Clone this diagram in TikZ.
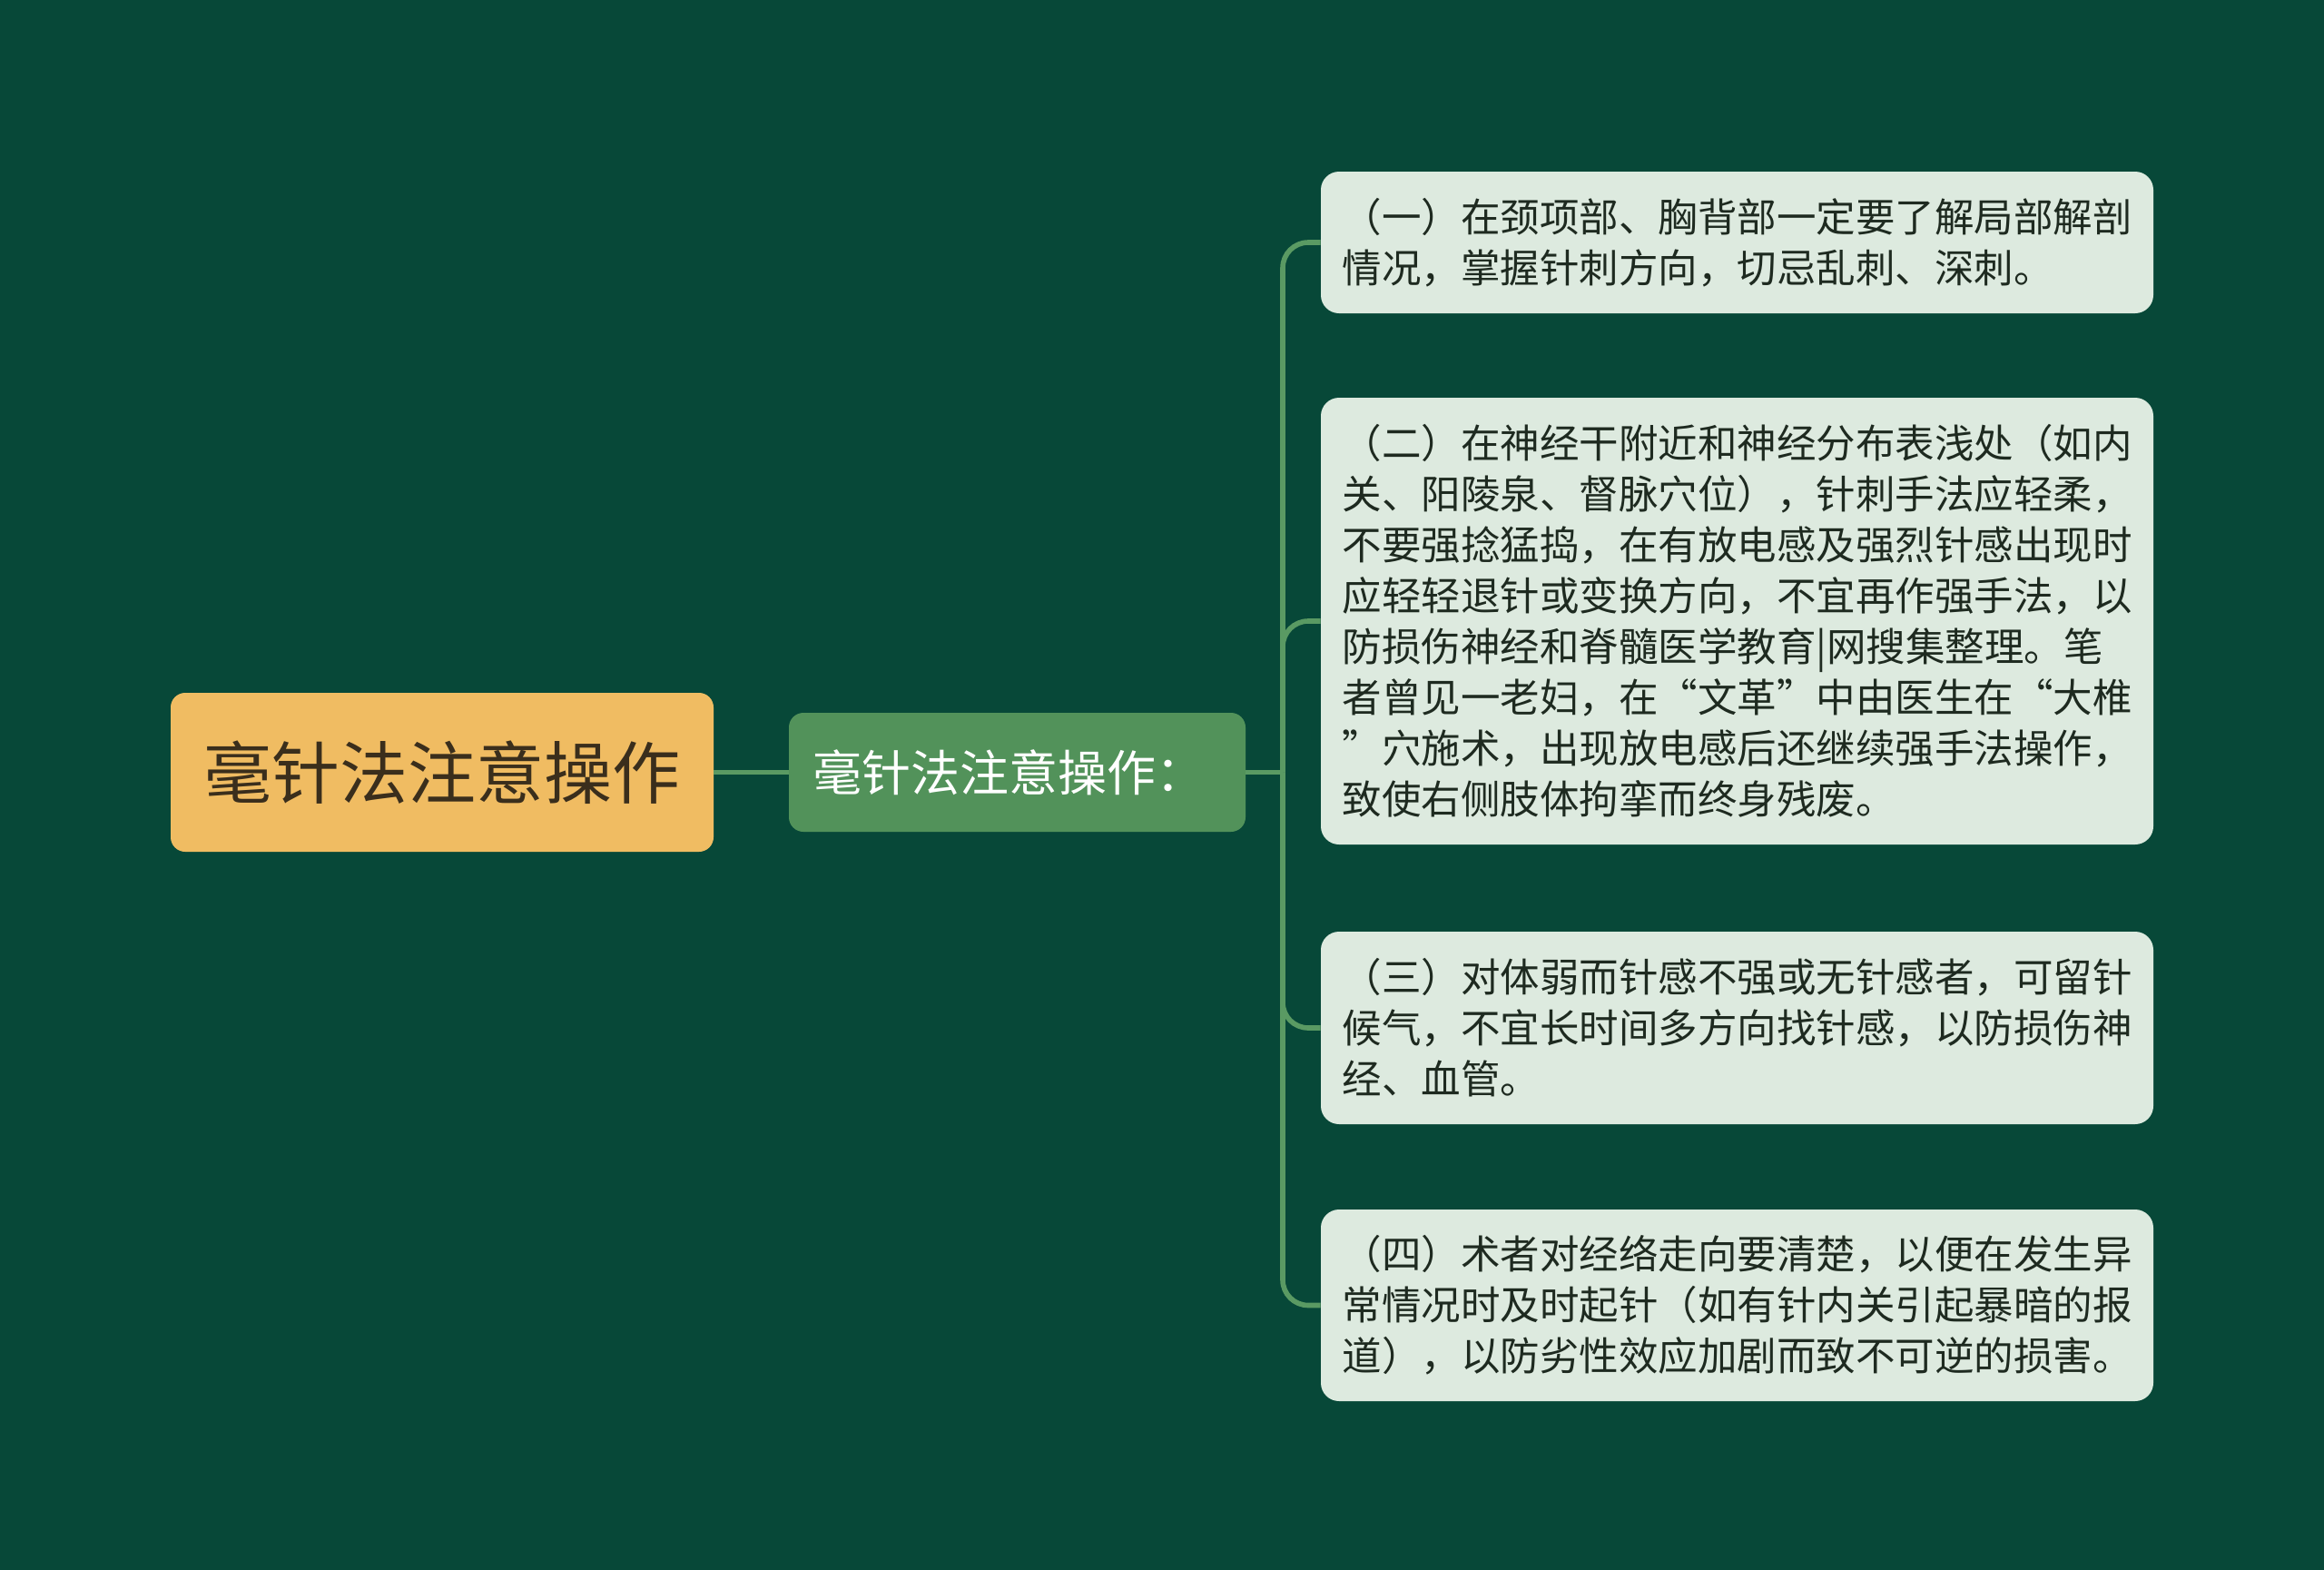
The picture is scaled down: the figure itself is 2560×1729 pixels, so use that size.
\documentclass[tikz,border=0pt]{standalone}
\usepackage{fontspec}
\setmainfont{Noto Sans CJK SC}
\definecolor{bgc}{HTML}{074838}
\definecolor{rootc}{HTML}{F0BC62}
\definecolor{roott}{HTML}{3A2E1C}
\definecolor{midc}{HTML}{52925A}
\definecolor{leafc}{HTML}{DDEADF}
\definecolor{leaft}{HTML}{1E2A20}
\definecolor{linec}{HTML}{5A9A63}
\begin{document}
\begin{tikzpicture}[x=0.5pt,y=-0.5pt,
  rootbox/.style={draw=none,fill=rootc,rounded corners=8pt,text=roott,
    minimum width=299pt,minimum height=87.5pt,inner sep=0pt,
    font=\fontsize{37.5pt}{44pt}\selectfont},
  midbox/.style={draw=none,fill=midc,rounded corners=8pt,text=white,
    minimum width=251.5pt,minimum height=65.5pt,inner xsep=13pt,inner ysep=0pt,
    text width=225.5pt,align=left,font=\fontsize{27pt}{32pt}\selectfont},
  leafbox/.style={draw=none,fill=leafc,rounded corners=10pt,text=leaft,
    minimum width=458.5pt,inner xsep=11.75pt,inner ysep=0pt,
    text width=435pt,align=left,font=\fontsize{21.75pt}{28pt}\selectfont},
  conn/.style={draw=linec,line width=2.8pt},
]
\fill[bgc] (0,0) rectangle (2560,1729);
\useasboundingbox (0,0) rectangle (2560,1729);

\node[rootbox] (root) at (487,850.5) {毫针法注意操作};
\node[midbox] (mid) at (1120.5,850.5) {毫针法注意操作：};

\node[leafbox,minimum height=78pt] (l1) at (1913.5,267) {（一）在颈项部、胸背部一定要了解局部解剖\\情况，掌握针刺方向，切忌乱刺、深刺。};
\node[leafbox,minimum height=246pt] (l2) at (1913.5,684) {（二）在神经干附近和神经分布表浅处（如内\\关、阳陵泉、督脉穴位），针刺手法应轻柔，\\不要强捻猛捣，在有放电感及强烈针感出现时\\应轻轻退针或变换方向，不宜再作强手法，以\\防损伤神经和脊髓医学教育|网搜集整理。笔\\者曾见一老妇，在“文革”中由医生在“大椎\\”穴施术，出现放电感后还继续强手法操作，\\致使右侧肢体拘挛而终身残废。};
\node[leafbox,minimum height=106pt] (l3) at (1913.5,1132) {（三）对体弱而针感不强或无针感者，可留针\\候气，不宜长时间多方向找针感，以防损伤神\\经、血管。};
\node[leafbox,minimum height=105.5pt] (l4) at (1913.5,1437.5) {（四）术者对经络走向要清楚，以便在发生异\\常情况时及时起针（如有针内关引起暴暗的报\\道），以防劣性效应加剧而致不可逆的损害。};

\coordinate (j) at (1413,850.5);
\draw[conn] (root.east) -- (mid.west);
\draw[conn] (mid.east) -- (j);
\draw[conn,rounded corners=14pt] (j) |- (l1.west);
\draw[conn,rounded corners=14pt] (j) |- (l2.west);
\draw[conn,rounded corners=14pt] (j) |- (l3.west);
\draw[conn,rounded corners=14pt] (j) |- (l4.west);
\end{tikzpicture}
\end{document}
